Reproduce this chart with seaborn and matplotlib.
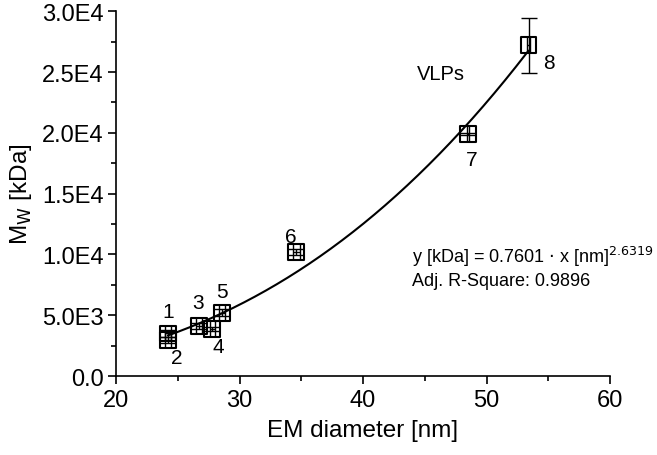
import numpy as np
import pandas as pd
import matplotlib
matplotlib.use("Agg")
import matplotlib.pyplot as plt
import seaborn as sns
from matplotlib.ticker import FixedLocator, MultipleLocator

# Data
labels = ["1", "2", "3", "4", "5", "6", "7", "8"]
em_diameter = [24.2, 24.2, 26.7, 27.8, 28.6, 34.6, 48.5, 53.4]
mw = [3500, 2950, 4100, 3850, 5200, 10200, 19900, 27200]
x_err = [0.25, 0.25, 0.25, 0.2, 0.25, 0.3, 0.1, 0.1]
y_err = [250, 250, 250, 150, 300, 250, 100, 2250]
fit_a = 0.7601
fit_b = 2.6319
fit_range = [24.2, 53.4]
y_ticks = [0, 5000, 10000, 15000, 20000, 25000, 30000]
y_ticklabels = ["0.0", "5.0E3", "1.0E4", "1.5E4", "2.0E4", "2.5E4", "3.0E4"]
x_ticks = [20, 30, 40, 50, 60]

sns.set_style("ticks")
plt.rcParams["font.family"] = ["Liberation Sans", "DejaVu Sans"]
for k in ["text.color", "axes.labelcolor", "xtick.color", "ytick.color", "axes.edgecolor"]:
    plt.rcParams[k] = "black"

fig = plt.figure(figsize=(6.57, 4.56), dpi=100)
ax = fig.add_axes([0.1766, 0.1732, 0.7519, 0.7998])

df = pd.DataFrame({"x": em_diameter, "y": mw, "label": labels})
xf = np.linspace(fit_range[0], fit_range[1], 200)
fit_df = pd.DataFrame({"x": xf, "y": fit_a * xf ** fit_b})

sns.lineplot(data=fit_df, x="x", y="y", color="black", lw=1.5, ax=ax)
ax.errorbar(em_diameter, mw, xerr=x_err, yerr=y_err, fmt="none",
            ecolor="black", elinewidth=1.0, capsize=5.5, capthick=1.0, zorder=3)
sns.scatterplot(data=df, x="x", y="y", marker="s", s=130,
                facecolor="none", edgecolor="black", linewidth=1.5, ax=ax, zorder=4)

offsets = {"1": (0, 22), "2": (9, -17), "3": (-1, 24), "4": (6, -17),
           "5": (0, 21), "6": (-6, 16), "7": (4, -25), "8": (20, -17)}
for lab, xv, yv in zip(labels, em_diameter, mw):
    dx, dy = offsets[lab]
    ax.annotate(lab, (xv, yv), xytext=(dx, dy), textcoords="offset pixels",
                ha="center", va="center", fontsize=15)

ax.text(44.4, 24860, "VLPs", fontsize=14.5, ha="left", va="center")
ax.text(44.0, 9850, r"y [kDa] = 0.7601 $\cdot$ x [nm]$^{2.6319}$", fontsize=13,
        ha="left", va="center")
ax.text(44.0, 7850, "Adj. R-Square: 0.9896", fontsize=13, ha="left", va="center")

ax.set_xlim(20, 60)
ax.set_ylim(0, 30000)
ax.xaxis.set_major_locator(FixedLocator(x_ticks))
ax.xaxis.set_minor_locator(MultipleLocator(5))
ax.yaxis.set_major_locator(FixedLocator(y_ticks))
ax.set_yticklabels(y_ticklabels)
ax.yaxis.set_minor_locator(MultipleLocator(2500))
ax.tick_params(which="major", direction="out", length=6, width=1.2, labelsize=17, pad=3)
ax.tick_params(which="minor", direction="out", length=3.5, width=1.2)
ax.set_xlabel("EM diameter [nm]", fontsize=17.5, labelpad=6)
ax.set_ylabel(r"M$_{\mathrm{W}}$ [kDa]", fontsize=17.5, labelpad=6)
sns.despine(ax=ax)
for s in ["left", "bottom"]:
    ax.spines[s].set_linewidth(1.2)

fig.savefig("out.png", dpi=100)
